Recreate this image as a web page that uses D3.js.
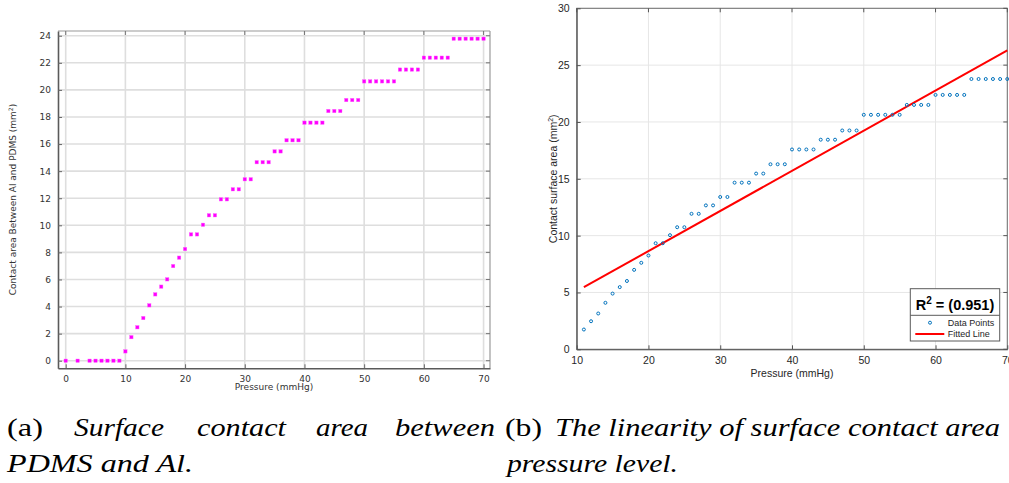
<!DOCTYPE html>
<html>
<head>
<meta charset="utf-8">
<script src="https://cdn.jsdelivr.net/npm/d3@7"></script>
<style>
  html, body { margin: 0; padding: 0; background: #fff; }
  svg { display: block; }
</style>
</head>
<body>
<svg id="fig" width="1009" height="483"></svg>
<script>
// Pressure steps (mmHg) and measured contact area between Al and PDMS (mm²)
const pressure = [0, 2, 4, 5, 6, 7, 8, 9, 10,
  11, 12, 13, 14, 15, 16, 17, 18, 19, 20,
  21, 22, 23, 24, 25, 26, 27, 28, 29, 30,
  31, 32, 33, 34, 35, 36, 37, 38, 39, 40,
  41, 42, 43, 44, 45, 46, 47, 48, 49, 50,
  51, 52, 53, 54, 55, 56, 57, 58, 59, 60,
  61, 62, 63, 64, 65, 66, 67, 68, 69, 70];
const contactArea = [0, 0, 0, 0, 0, 0, 0, 0, 0.69,
  1.74, 2.47, 3.15, 4.09, 4.90, 5.47, 6.01, 6.99, 7.61, 8.25,
  9.33, 9.33, 10.04, 10.74, 10.74, 11.92, 11.92, 12.66, 12.66, 13.40,
  13.40, 14.66, 14.66, 14.66, 15.46, 15.46, 16.28, 16.28, 16.28, 17.58,
  17.58, 17.58, 17.58, 18.44, 18.44, 18.44, 19.25, 19.25, 19.25, 20.63,
  20.63, 20.63, 20.63, 20.63, 20.63, 21.50, 21.50, 21.50, 21.50, 22.38,
  22.38, 22.38, 22.38, 22.38, 23.78, 23.78, 23.78, 23.78, 23.78, 23.78];

// Tick labels
const ticksAX = [0, 10, 20, 30, 40, 50, 60, 70];
const ticksAY = [0, 2, 4, 6, 8, 10, 12, 14, 16, 18, 20, 22, 24];
const ticksBX = [10, 20, 30, 40, 50, 60, 70];
const ticksBY = [0, 5, 10, 15, 20, 25, 30];

// Linear fit of contact area against pressure (from 11 mmHg on)
const fitSlope = 0.353;
const fitIntercept = 1.58;
const fitRange = [11, 70];
const rSquared = "0.951";

const svg = d3.select("#fig");

/* ---------------- (a) scatter of contact area ---------------- */
const ax = d3.scaleLinear().domain([-1.29, 71.08]).range([58, 490]);
const ay = d3.scaleLinear().domain([-0.56, 24.35]).range([368.3, 31]);
const gA = svg.append("g").attr("font-family", "DejaVu Sans").attr("font-size", 9);

// grid
gA.append("g").selectAll("line").data(ticksAX).join("line")
  .attr("x1", d => ax(d)).attr("x2", d => ax(d))
  .attr("y1", ay.range()[1]).attr("y2", ay.range()[0])
  .attr("stroke", "#dedede").attr("stroke-width", 1.6);
gA.append("g").selectAll("line").data(ticksAY).join("line")
  .attr("x1", ax.range()[0]).attr("x2", ax.range()[1])
  .attr("y1", d => ay(d)).attr("y2", d => ay(d))
  .attr("stroke", "#dedede").attr("stroke-width", 1.6);

// frame: top and right in light grey
gA.append("line").attr("x1", 58).attr("x2", 490).attr("y1", 31).attr("y2", 31)
  .attr("stroke", "#9a9a9a").attr("stroke-width", 1.2);
gA.append("line").attr("x1", 490).attr("x2", 490).attr("y1", 31).attr("y2", 368.3)
  .attr("stroke", "#9a9a9a").attr("stroke-width", 1.2);

// axes with inward ticks
const axB = d3.axisBottom(ax).tickValues(ticksAX).tickSizeInner(-4).tickSizeOuter(0).tickPadding(7);
const axL = d3.axisLeft(ay).tickValues(ticksAY).tickSizeInner(-4).tickSizeOuter(0).tickPadding(7);
const gxA = gA.append("g").attr("transform", "translate(0,368.3)").call(axB);
const gyA = gA.append("g").attr("transform", "translate(58,0)").call(axL);
[gxA, gyA].forEach(g => {
  g.select(".domain").attr("stroke", "#5a5a5a").attr("stroke-width", 1.6);
  g.selectAll(".tick line").attr("stroke", "#666").attr("stroke-width", 1);
  g.selectAll("text").attr("fill", "#333").attr("font-family", "DejaVu Sans").attr("font-size", 9);
});
// top and right inward ticks
gA.append("g").selectAll("line").data(ticksAX).join("line")
  .attr("x1", d => ax(d)).attr("x2", d => ax(d)).attr("y1", 31).attr("y2", 35)
  .attr("stroke", "#777").attr("stroke-width", 1);
gA.append("g").selectAll("line").data(ticksAY).join("line")
  .attr("x1", 486).attr("x2", 490).attr("y1", d => ay(d)).attr("y2", d => ay(d))
  .attr("stroke", "#777").attr("stroke-width", 1);

// points
gA.append("g").selectAll("rect").data(pressure.map((p, i) => [p, contactArea[i]])).join("rect")
  .attr("x", d => ax(d[0]) - 1.7).attr("y", d => ay(d[1]) - 1.7)
  .attr("width", 3.4).attr("height", 3.4)
  .attr("fill", "#ff00ff").attr("stroke", "#ff66ff").attr("stroke-width", 0.4);

// labels
gA.append("text").attr("x", 274).attr("y", 390).attr("text-anchor", "middle")
  .attr("fill", "#333").text("Pressure (mmHg)");
const ylA = gA.append("text").attr("transform", "translate(16,199.5) rotate(-90)")
  .attr("text-anchor", "middle").attr("fill", "#333");
ylA.append("tspan").text("Contact area Between Al and PDMS (mm");
ylA.append("tspan").attr("dy", -3.5).attr("font-size", 6).text("2");
ylA.append("tspan").attr("dy", 3.5).text(")");

/* ---------------- (b) linear fit ---------------- */
const bx = d3.scaleLinear().domain([10, 70]).range([576.7, 1007.3]);
const by = d3.scaleLinear().domain([0, 30]).range([349.3, 8.3]);
const gB = svg.append("g").attr("font-family", "'Liberation Sans', Arial, sans-serif").attr("font-size", 10.5);

gB.append("g").selectAll("line").data(ticksBX).join("line")
  .attr("x1", d => bx(d)).attr("x2", d => bx(d)).attr("y1", 8.3).attr("y2", 349.3)
  .attr("stroke", "#e6e6e6").attr("stroke-width", 1);
gB.append("g").selectAll("line").data(ticksBY).join("line")
  .attr("x1", 576.7).attr("x2", 1007.3).attr("y1", d => by(d)).attr("y2", d => by(d))
  .attr("stroke", "#e6e6e6").attr("stroke-width", 1);

// box
gB.append("rect").attr("x", 576.7).attr("y", 8.3).attr("width", 1007.3 - 576.7).attr("height", 349.3 - 8.3)
  .attr("fill", "none").attr("stroke", "#6e6e6e").attr("stroke-width", 1);

const bxB = d3.axisBottom(bx).tickValues(ticksBX).tickSizeInner(-4).tickSizeOuter(0).tickPadding(7);
const byL = d3.axisLeft(by).tickValues(ticksBY).tickSizeInner(-4).tickSizeOuter(0).tickPadding(7);
const gxB = gB.append("g").attr("transform", "translate(0,349.3)").call(bxB);
const gyB = gB.append("g").attr("transform", "translate(576.7,0)").call(byL);
[gxB, gyB].forEach(g => {
  g.select(".domain").attr("stroke", "#555").attr("stroke-width", 1);
  g.selectAll(".tick line").attr("stroke", "#555");
  g.selectAll("text").attr("fill", "#262626").attr("font-family", "'Liberation Sans', Arial, sans-serif").attr("font-size", 10.5);
});
gB.append("g").selectAll("line").data(ticksBX).join("line")
  .attr("x1", d => bx(d)).attr("x2", d => bx(d)).attr("y1", 8.3).attr("y2", 12.3)
  .attr("stroke", "#555");
gB.append("g").selectAll("line").data(ticksBY).join("line")
  .attr("x1", 1003.3).attr("x2", 1007.3).attr("y1", d => by(d)).attr("y2", d => by(d))
  .attr("stroke", "#555");

// fitted line
gB.append("line")
  .attr("x1", bx(fitRange[0])).attr("y1", by(fitIntercept + fitSlope * fitRange[0]))
  .attr("x2", bx(fitRange[1])).attr("y2", by(fitIntercept + fitSlope * fitRange[1]))
  .attr("stroke", "#ff0000").attr("stroke-width", 2);

// data points from 11 mmHg onwards
const ptsB = pressure.map((p, i) => [p, contactArea[i]]).filter(d => d[0] >= fitRange[0]);
gB.append("g").selectAll("circle").data(ptsB).join("circle")
  .attr("cx", d => bx(d[0])).attr("cy", d => by(d[1])).attr("r", 1.5)
  .attr("fill", "none").attr("stroke", "#0072bd").attr("stroke-width", 1);

// axis labels
gB.append("text").attr("x", 792).attr("y", 376.5).attr("text-anchor", "middle")
  .attr("fill", "#262626").text("Pressure (mmHg)");
const ylB = gB.append("text").attr("transform", "translate(557,178.8) rotate(-90)")
  .attr("text-anchor", "middle").attr("fill", "#262626");
ylB.append("tspan").text("Contact surface area (mm");
ylB.append("tspan").attr("dy", -4).attr("font-size", 7).text("2");
ylB.append("tspan").attr("dy", 4).text(")");

// legend
const lg = gB.append("g");
lg.append("rect").attr("x", 910.3).attr("y", 288.7).attr("width", 89.4).attr("height", 52.3)
  .attr("fill", "#fff").attr("stroke", "#5a5a5a").attr("stroke-width", 1);
lg.append("line").attr("x1", 910.3).attr("x2", 999.7).attr("y1", 315.3).attr("y2", 315.3)
  .attr("stroke", "#5a5a5a").attr("stroke-width", 1);
const rt = lg.append("text").attr("x", 955).attr("y", 309.5).attr("text-anchor", "middle")
  .attr("font-weight", "bold").attr("font-size", 14.5).attr("fill", "#000");
rt.append("tspan").text("R");
rt.append("tspan").attr("dy", -6).attr("font-size", 10).text("2");
rt.append("tspan").attr("dy", 6).text(" = (" + rSquared + ")");
lg.append("circle").attr("cx", 930).attr("cy", 322.7).attr("r", 1.5)
  .attr("fill", "none").attr("stroke", "#0072bd").attr("stroke-width", 1);
lg.append("line").attr("x1", 915.3).attr("x2", 944.3).attr("y1", 334).attr("y2", 334)
  .attr("stroke", "#ff0000").attr("stroke-width", 2);
lg.append("text").attr("x", 947.7).attr("y", 326).attr("font-size", 9).attr("fill", "#262626").text("Data Points");
lg.append("text").attr("x", 947.7).attr("y", 337.3).attr("font-size", 9).attr("fill", "#262626").text("Fitted Line");

/* ---------------- captions ---------------- */
const cap = svg.append("g").attr("font-family", "'Liberation Serif', 'Times New Roman', serif")
  .attr("font-size", 25).attr("fill", "#000");
function word(x, y, w, s, italic) {
  cap.append("text").attr("x", x).attr("y", y)
    .attr("font-style", italic ? "italic" : "normal")
    .attr("textLength", w).attr("lengthAdjust", "spacingAndGlyphs").text(s);
}
word(7, 435.7, 36, "(a)", false);
word(74, 435.7, 90, "Surface", true);
word(197, 435.7, 89, "contact", true);
word(316, 435.7, 52, "area", true);
word(395, 435.7, 100, "between", true);
word(7, 472.3, 186, "PDMS and Al.", true);
word(505, 435.7, 37, "(b)", false);
word(555, 435.7, 445, "The linearity of surface contact area", true);
word(507, 472.3, 171, "pressure level.", true);
</script>
</body>
</html>
